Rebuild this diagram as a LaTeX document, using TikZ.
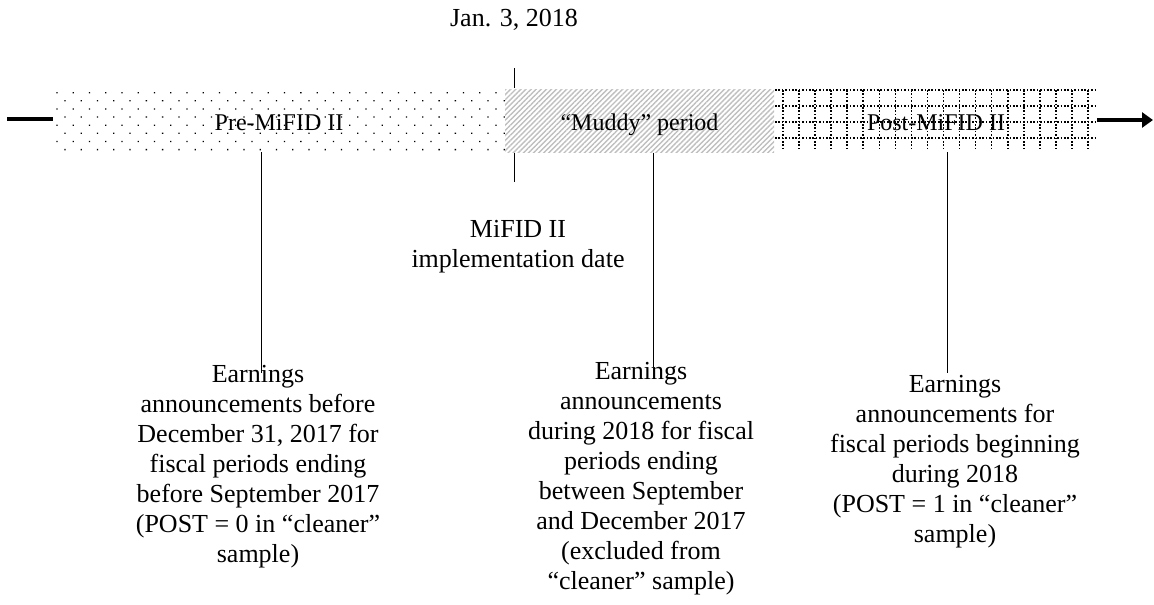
\documentclass[tikz,border=0pt]{standalone}
\usepackage{fontspec}
\setmainfont{Liberation Serif}
\usetikzlibrary{patterns.meta,arrows.meta}

\begin{document}
\begin{tikzpicture}
  [x=1pt,y=-1pt,
   band/.style={minimum height=63pt,inner sep=0pt,text height=19pt,text depth=0pt,font=\fontsize{24}{28}\selectfont},
   preband/.style={band,pattern={Dots[distance=11.5pt,angle=45,radius=0.9pt]},pattern color=black},
   mudband/.style={band,pattern={Lines[angle=45,distance=3.6pt,line width=1.4pt]},pattern color=gray!50},
   postband/.style={band},
   gridline/.style={line width=1.6pt,dash pattern=on 1.6pt off 1.8pt},
   note/.style={align=center,anchor=north,inner sep=0pt,font=\fontsize{26}{30}\selectfont},
   leg/.style={line width=0.8pt},
   axis/.style={line width=4pt}]
  \useasboundingbox (0,0) rectangle (1154,605);
  \foreach \i in {0,...,19}
    \draw[gridline] (783+16.05*\i,90) -- ++(0,60);
  \foreach \y in {90,106,122,138}
    \draw[gridline] (775,\y) -- (1097,\y);
  \node[preband,minimum width=452pt] (prebox) at (279,120.5) {Pre-MiFID II};
  \node[mudband,minimum width=269pt] (mudbox) at (639.5,120.5) {“Muddy” period};
  \node[postband,minimum width=322pt] (postbox) at (936,120.5) {Post-MiFID II};

  \coordinate (axstart) at (7,119);
  \coordinate (axend) at (1153,120);
  \draw[axis] (axstart) -- (axstart -| prebox.west);
  \draw[axis,-{Triangle[length=11pt,width=15pt]}] (axend -| postbox.east) -- (axend);

  \node[note] (jan) at (514,9.5) {Jan. 3, 2018};
  \node[note] (impl) at (518,220) {MiFID II\\implementation date};
  \coordinate (ticktop) at (514,68);
  \coordinate (tickbot) at (514,182);
  \draw[leg] (ticktop) -- (ticktop |- mudbox.north);
  \draw[leg] (tickbot |- mudbox.south) -- (tickbot);

  \node[note] (pretxt) at (258,365) {Earnings\\announcements before\\December 31, 2017 for\\fiscal periods ending\\before September 2017\\(POST = 0 in “cleaner”\\sample)};
  \node[note] (mudtxt) at (641,362) {Earnings\\announcements\\during 2018 for fiscal\\periods ending\\between September\\and December 2017\\(excluded from\\“cleaner” sample)};
  \node[note] (posttxt) at (955,375) {Earnings\\announcements for\\fiscal periods beginning\\during 2018\\(POST = 1 in “cleaner”\\sample)};

  \coordinate (prefoot) at (261,373);
  \coordinate (mudfoot) at (653,367);
  \coordinate (postfoot) at (947,373);
  \draw[leg] (prefoot |- prebox.south) -- (prefoot);
  \draw[leg] (mudfoot |- mudbox.south) -- (mudfoot);
  \draw[leg] (postfoot |- postbox.south) -- (postfoot);
\end{tikzpicture}
\end{document}
